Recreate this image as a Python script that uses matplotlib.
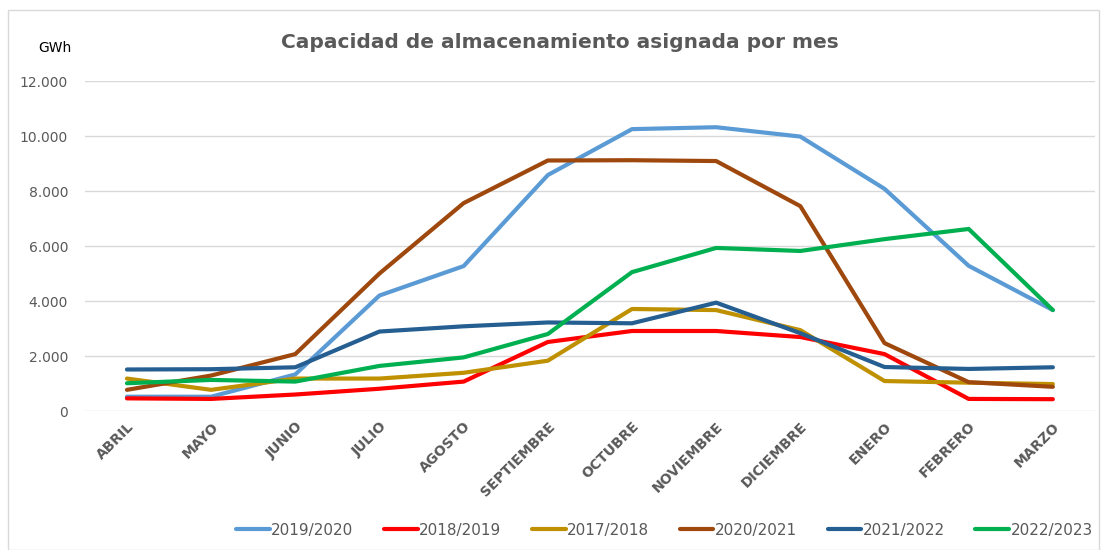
import matplotlib.pyplot as plt
from matplotlib.patches import Rectangle
from matplotlib.ticker import FuncFormatter

meses = ['ABRIL', 'MAYO', 'JUNIO', 'JULIO', 'AGOSTO', 'SEPTIEMBRE', 'OCTUBRE',
         'NOVIEMBRE', 'DICIEMBRE', 'ENERO', 'FEBRERO', 'MARZO']

s2019_2020 = [520, 520, 1330, 4200, 5270, 8580, 10250, 10320, 9980, 8080, 5280, 3670]
s2018_2019 = [460, 440, 600, 810, 1070, 2510, 2910, 2910, 2690, 2070, 440, 430]
s2017_2018 = [1180, 770, 1180, 1180, 1390, 1830, 3710, 3670, 2940, 1090, 1030, 980]
s2020_2021 = [770, 1290, 2070, 5000, 7560, 9110, 9120, 9090, 7450, 2470, 1050, 880]
s2021_2022 = [1510, 1520, 1590, 2890, 3080, 3220, 3190, 3940, 2830, 1600, 1530, 1590]
s2022_2023 = [1010, 1130, 1070, 1640, 1950, 2800, 5050, 5930, 5820, 6250, 6620, 3670]

series = [
    ('2019/2020', s2019_2020, '#5B9BD5'),
    ('2018/2019', s2018_2019, '#FF0000'),
    ('2017/2018', s2017_2018, '#BF9000'),
    ('2020/2021', s2020_2021, '#9E480E'),
    ('2021/2022', s2021_2022, '#255E91'),
    ('2022/2023', s2022_2023, '#00B050'),
]

gris = '#595959'
fig = plt.figure(figsize=(11.02, 5.5), dpi=100)
ax = fig.add_axes([0.077, 0.2527, 0.9166, 0.60])

x = range(len(meses))
for nombre, vals, color in series:
    ax.plot(x, vals, color=color, lw=3.0, label=nombre, solid_capstyle='round')

ax.set_xlim(-0.5, len(meses) - 0.5)
ax.set_ylim(0, 12000)
ax.set_yticks(range(0, 12001, 2000))
ax.yaxis.set_major_formatter(FuncFormatter(lambda v, p: f'{int(v):,}'.replace(',', '.')))
ax.grid(axis='y', color='#D9D9D9', lw=1)
ax.set_axisbelow(True)
for s in ax.spines.values():
    s.set_visible(False)
ax.tick_params(length=0, colors=gris)
ax.tick_params(axis='y', labelsize=10, pad=12)
ax.tick_params(axis='x', pad=6)
ax.set_xticks(list(x))
ax.set_xticklabels(meses, rotation=45, ha='right', rotation_mode='anchor',
                   fontsize=10, fontweight='bold', color=gris)

fig.text(0.508, 0.922, 'Capacidad de almacenamiento asignada por mes', ha='center',
         va='center', fontsize=14.5, fontweight='bold', color=gris)
fig.text(0.05, 0.912, 'GWh', ha='center', va='center', fontsize=10, color='black')

fig.legend(loc='center', bbox_to_anchor=(0.603, 0.036), ncol=6, frameon=False,
           fontsize=11, handlelength=2.2, handletextpad=0.1, columnspacing=2.0,
           labelcolor=gris)

fig.patches.append(Rectangle((0.0075, 0.0), 0.99, 0.982, transform=fig.transFigure,
                             fill=False, edgecolor='#D9D9D9', lw=1))

fig.savefig('out.png', dpi=100)
